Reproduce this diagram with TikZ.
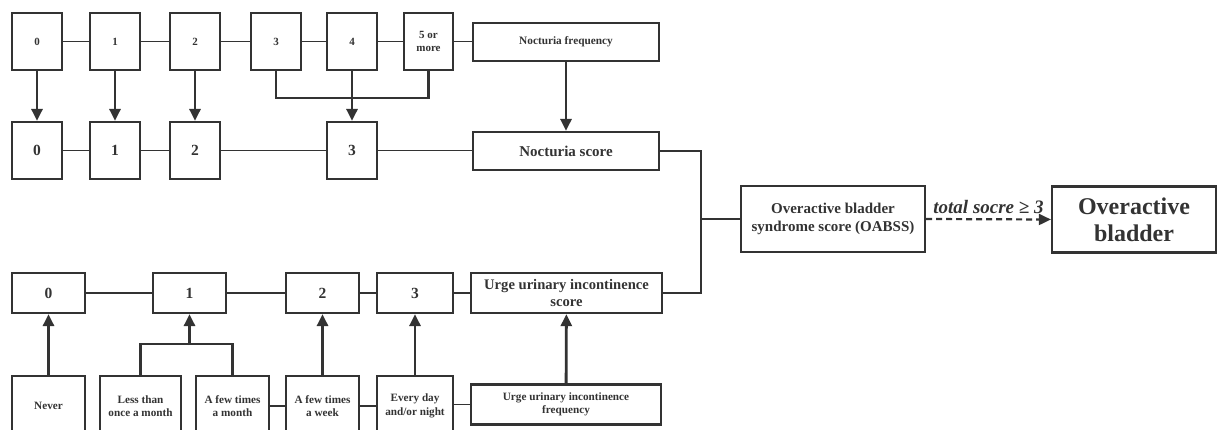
\documentclass[tikz,border=0pt]{standalone}
\usepackage{fontspec}
\setmainfont{Liberation Serif}
\usetikzlibrary{arrows.meta}
\definecolor{ink}{HTML}{333333}
\begin{document}
\begin{tikzpicture}[x=1pt,y=-1pt,
  box/.style={draw=ink,line width=2.2pt,fill=white,inner sep=0pt,align=center,font=\bfseries,text=ink},
  thin/.style={draw=ink,line width=1.6pt},
  thick/.style={draw=ink,line width=2.8pt},
  arr/.style={thick,-{Triangle[length=12pt,width=11pt]}},
  sq/.style={box,minimum width=50pt,minimum height=57pt},
  sc/.style={box,minimum width=73pt,minimum height=40pt},
  small/.style={font=\bfseries\fontsize{11}{13.5}\selectfont},
  big/.style={font=\bfseries\fontsize{15.5}{18}\selectfont},
  fq/.style={box,minimum width=73pt,minimum height=60pt,font=\bfseries\fontsize{11.2}{13.5}\selectfont}]
\useasboundingbox (0,0) rectangle (1217,430);
\clip (0,0) rectangle (1217,430);
\fill[white] (0,0) rectangle (1217,430);

% top row: nocturia frequency
\node[sq,small] (t0) at (37,41.5) {0};
\node[sq,small] (t1) at (115,41.5) {1};
\node[sq,small] (t2) at (195,41.5) {2};
\node[sq,small] (t3) at (276,41.5) {3};
\node[sq,small] (t4) at (352,41.5) {4};
\node[sq,small,minimum width=49pt] (t5) at (428.5,41.5) {5 or\\more};
\node[box,minimum width=186pt,minimum height=38pt,font=\bfseries\fontsize{11.3}{13.5}\selectfont] (nf) at (566,42) {Nocturia frequency};

% second row: nocturia score
\node[sq,big] (s0) at (37,150.5) {0};
\node[sq,big] (s1) at (115,150.5) {1};
\node[sq,big] (s2) at (195,150.5) {2};
\node[sq,big] (s3) at (352,150.5) {3};
\node[box,minimum width=186pt,minimum height=38pt,font=\bfseries\fontsize{15}{18}\selectfont] (ns) at (566,151) {Nocturia score};

% bottom score row
\node[sc,big] (u0) at (48.5,293) {0};
\node[sc,big] (u1) at (189.5,293) {1};
\node[sc,big] (u2) at (322.5,293) {2};
\node[sc,big,minimum width=76pt] (u3) at (415,293) {3};
\node[box,minimum width=191pt,minimum height=40pt,font=\bfseries\fontsize{14.6}{17}\selectfont] (us) at (566.5,293) {Urge urinary incontinence\\score};

% frequency row
\node[fq] (f0) at (48.5,406) {Never};
\node[fq,minimum width=81pt] (f1) at (140.5,406) {Less than\\once a month};
\node[fq] (f2) at (232.5,406) {A few times\\a month};
\node[fq] (f3) at (322.5,406) {A few times\\a week};
\node[fq,minimum width=76pt] (f4) at (415,406) {Every day\\and/or night};
\node[box,minimum width=190pt,minimum height=40pt,font=\bfseries\fontsize{11.2}{13.5}\selectfont] (uf) at (566,404.5) {Urge urinary incontinence\\frequency};

% OABSS and result
\node[box,minimum width=184pt,minimum height=66pt,font=\bfseries\fontsize{15}{18.5}\selectfont] (oab) at (833,219) {Overactive bladder\\syndrome score (OABSS)};
\node[box,minimum width=164pt,minimum height=66pt,font=\bfseries\fontsize{24}{27}\selectfont] (ob) at (1134,219.5) {Overactive\\bladder};

% thin chain connectors
\draw[thin] (t0) -- (t1) (t1) -- (t2) (t2) -- (t3) (t3) -- (t4) (t4) -- (t5);
\draw[thin] (t5.east) -- (t5.east -| nf.west);
\draw[thin] (s0) -- (s1) (s1) -- (s2) (s2) -- (s3);
\draw[thin] (s3.east) -- (s3.east -| ns.west);
\draw[thin] (u0) -- (u1) (u1) -- (u2) (u2) -- (u3) (u3) -- (us);
\draw[thin] (f2.east) -- (f3.west) (f3.east) -- (f4.west);
\draw[thin] (f4.east |- uf.west) -- (uf.west);

% arrows top -> second row
\draw[arr] (t0) -- (s0);
\draw[arr] (t1) -- (s1);
\draw[arr] (t2) -- (s2);
\draw[thick] (t3.south) -- ++(0,27) -| (t5.south);
\draw[arr] (t4) -- (s3);
\draw[arr] (nf) -- (ns);

% arrows frequency -> score
\draw[arr] (f0) -- (u0);
\draw[thick] (f1.north) -- ++(0,-31) -| (f2.north);
\draw[arr] (u1.south |- 0,345) -- (u1.south);
\draw[arr] (f3) -- (u2);
\draw[arr] (f4) -- (u3);
\draw[arr] (uf) -- (us);

% right bracket to OABSS
\coordinate (j) at (701,219);
\draw[line width=2.4pt,draw=ink] (ns.east) -| (j) |- (us.east);
\draw[line width=2.2pt,draw=ink] (j) -- (oab.west);

% dashed arrow
\draw[draw=ink,line width=2.2pt,dash pattern=on 6pt off 4pt,-{Triangle[length=12pt,width=11pt]}] (oab.east) -- node[above=1pt,font=\itshape\bfseries\fontsize{19}{22}\selectfont,text=ink] {total socre ≥ 3} (ob.west);
\end{tikzpicture}
\end{document}
